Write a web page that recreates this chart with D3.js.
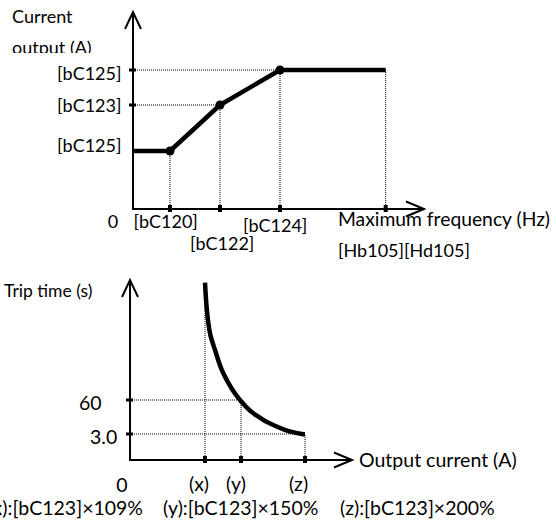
<!DOCTYPE html>
<html><head><meta charset="utf-8">
<script src="https://cdn.jsdelivr.net/npm/d3@7"></script>
<style>
html,body{margin:0;padding:0;background:#fff;}
svg{display:block;}
text{font-family:Lato,"Open Sans",sans-serif;fill:#000;}
</style></head><body>
<svg id="c" width="556" height="521"></svg>
<script>
// ---------- Top chart data ----------
const freqBreaks = [37, 87, 147, 252.7];          // bC120, bC122, bC124, max freq
const freqLabels = ["[bC120]", "[bC122]", "[bC124]", ""];
const currLevels = [58, 104, 139];                // bC125(low), bC123, bC125(high)
const currLabels = ["[bC125]", "[bC123]", "[bC125]"];
const lineX = [0, 37, 87, 147, 252.7];
const lineY = [58, 58, 104, 139, 139];
const markerIdx = [1, 2, 3];

// ---------- Bottom chart data ----------
const curX = [75, 80, 85, 93.3, 110, 123.3, 143.3, 173.3, 175];
const tripY = [177.3, 126.7, 110, 86.7, 60, 46.7, 35, 25.7, 25.7];
const curTicks = [75, 111, 175];
const curTickLabels = ["(x)", "(y)", "(z)"];
const tripLevels = [60, 26];
const tripLabels = ["60", "3.0"];
const notes = ["(x):[bC123]×109%", "(y):[bC123]×150%", "(z):[bC123]×200%"];

const svg = d3.select("#c");

// ===== TOP CHART =====
const xT = d3.scaleLinear().domain([0, 291]).range([133, 424]);
const yT = d3.scaleLinear().domain([0, 197]).range([209, 12]);
const gT = svg.append("g");

function dotted(g, x1, y1, x2, y2){
  g.append("line").attr("x1",x1).attr("y1",y1).attr("x2",x2).attr("y2",y2)
    .attr("stroke","#000").attr("stroke-width",1).attr("stroke-dasharray","1,1");
}
dotted(gT, xT(0), yT(currLevels[2]), xT(freqBreaks[2]), yT(currLevels[2]));
dotted(gT, xT(0), yT(currLevels[1]), xT(freqBreaks[1]), yT(currLevels[1]));
const topGuideY = [currLevels[0], currLevels[1], currLevels[2], currLevels[2]];
freqBreaks.forEach((f,i)=>dotted(gT, xT(f), yT(0), xT(f), yT(topGuideY[i])));

function axisArrows(g, xs, ys, xEnd, yEnd){
  g.append("line").attr("x1",xs(0)-1).attr("y1",ys(0)).attr("x2",xs(xEnd)).attr("y2",ys(0))
    .attr("stroke","#000").attr("stroke-width",2);
  g.append("line").attr("x1",xs(0)).attr("y1",ys(0)).attr("x2",xs(0)).attr("y2",ys(yEnd))
    .attr("stroke","#000").attr("stroke-width",2);
  const tx = xs(xEnd), ty = ys(0);
  g.append("path").attr("d",`M${tx-18},${ty-7.5}L${tx},${ty}L${tx-18},${ty+7.5}`)
    .attr("fill","none").attr("stroke","#000").attr("stroke-width",2);
  const ux = xs(0), uy = ys(yEnd);
  g.append("path").attr("d",`M${ux-8},${uy+17}L${ux},${uy}L${ux+8},${uy+17}`)
    .attr("fill","none").attr("stroke","#000").attr("stroke-width",2);
}
axisArrows(gT, xT, yT, 291, 197);

freqBreaks.forEach(f=>gT.append("rect").attr("x",xT(f)-2).attr("y",yT(0)-4).attr("width",4).attr("height",7).attr("fill","#000"));
currLevels.slice(1).forEach(c=>gT.append("rect").attr("x",xT(0)-4).attr("y",yT(c)-1.5).attr("width",7).attr("height",3).attr("fill","#000"));

gT.append("path").datum(lineX.map((x,i)=>[x,lineY[i]]))
  .attr("d", d3.line().x(d=>xT(d[0])).y(d=>yT(d[1])))
  .attr("fill","none").attr("stroke","#000").attr("stroke-width",4.5).attr("stroke-linejoin","round");
markerIdx.forEach(i=>gT.append("circle").attr("cx",xT(lineX[i])).attr("cy",yT(lineY[i])).attr("r",4.5).attr("fill","#000"));

const fsT = 18, fsBig = 19.3;
const yLabelDy = [0.7, 7.3, 10];
currLabels.forEach((t,i)=>gT.append("text").attr("x",121.5).attr("y",yT(currLevels[i])+yLabelDy[i])
  .attr("text-anchor","end").attr("font-size",fsT).text(t));
const xLabelPos = [[133.5,228],[190,250],[243,232]];
freqLabels.forEach((t,i)=>{ if(t) gT.append("text").attr("x",xLabelPos[i][0]).attr("y",xLabelPos[i][1]).attr("font-size",fsT).text(t);});
gT.append("text").attr("x",113).attr("y",228).attr("text-anchor","middle").attr("font-size",fsT).text("0");
gT.append("text").attr("x",338).attr("y",226).attr("font-size",fsBig).text("Maximum frequency (Hz)");
gT.append("text").attr("x",338).attr("y",256.7).attr("font-size",fsT).text("[Hb105][Hd105]");
svg.append("defs").append("clipPath").attr("id","clipTitle").append("rect").attr("x",0).attr("y",0).attr("width",130).attr("height",53);
const tg = gT.append("g").attr("clip-path","url(#clipTitle)");
tg.append("text").attr("x",12).attr("y",22.7).attr("font-size",fsT).text("Current");
tg.append("text").attr("x",12).attr("y",54).attr("font-size",fsT).text("output (A)");

// ===== BOTTOM CHART =====
const xB = d3.scaleLinear().domain([0, 222]).range([130, 352]);
const yB = d3.scaleLinear().domain([0, 180]).range([460, 280]);
const gB = svg.append("g");
dotted(gB, xB(0), yB(tripLevels[0]), xB(curTicks[1]), yB(tripLevels[0]));
dotted(gB, xB(0), yB(tripLevels[1]), xB(curTicks[2]), yB(tripLevels[1]));
const botGuideY = [tripY[0], tripLevels[0], tripLevels[1]];
curTicks.forEach((c,i)=>dotted(gB, xB(c), yB(0), xB(c), yB(botGuideY[i])));
axisArrows(gB, xB, yB, 222, 180);
curTicks.forEach(c=>gB.append("rect").attr("x",xB(c)-2).attr("y",yB(0)-4).attr("width",4).attr("height",7).attr("fill","#000"));
tripLevels.forEach(c=>gB.append("rect").attr("x",xB(0)-4).attr("y",yB(c)-1.5).attr("width",7).attr("height",3).attr("fill","#000"));
gB.append("path").datum(curX.map((x,i)=>[x,tripY[i]]))
  .attr("d", d3.line().x(d=>xB(d[0])).y(d=>yB(d[1])).curve(d3.curveMonotoneY))
  .attr("fill","none").attr("stroke","#000").attr("stroke-width",4.5).attr("stroke-linecap","butt");

const fsB = 19.5;
const tripLabelX = [101.5, 117.3];
const tripLabelDy = [10, 10];
tripLabels.forEach((t,i)=>gB.append("text").attr("x",tripLabelX[i]).attr("y",yB(tripLevels[i])+tripLabelDy[i])
  .attr("text-anchor","end").attr("font-size",fsB).text(t));
const tickLabelX = [199, 236, 298.5];
curTickLabels.forEach((t,i)=>gB.append("text").attr("x",tickLabelX[i]).attr("y",491).attr("text-anchor","middle").attr("font-size",fsB).text(t));
gB.append("text").attr("x",122).attr("y",491.5).attr("text-anchor","middle").attr("font-size",fsB).text("0");
gB.append("text").attr("x",4).attr("y",297).attr("font-size",17.5).text("Trip time (s)");
gB.append("text").attr("x",359).attr("y",467).attr("font-size",fsB).text("Output current (A)");
const noteX = [143, 163, 340];
const noteAnchor = ["end","start","start"];
notes.forEach((t,i)=>gB.append("text").attr("x",noteX[i]).attr("y",515).attr("text-anchor",noteAnchor[i]).attr("font-size",fsB).text(t));
</script></body></html>
